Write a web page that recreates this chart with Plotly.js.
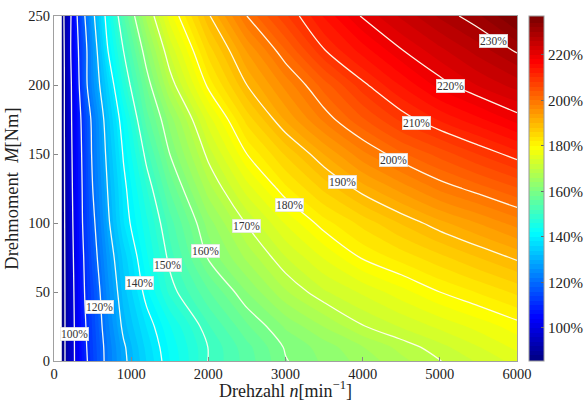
<!DOCTYPE html>
<html>
<head>
<meta charset="utf-8">
<script src="https://cdn.plot.ly/plotly-3.0.1.min.js"></script>
<style>html,body{margin:0;padding:0;background:#fff;}#chart{width:586px;height:401px;}</style>
</head>
<body>
<div id="chart"></div>
<script>
// Speed (rpm) and torque (Nm) grid
const rpm = [100, 200, 300, 400, 500, 700, 900, 1200, 1500, 2000, 2500, 3000, 3500, 4000, 4500, 5000, 5500, 6000];
const torque = [0, 10, 25, 50, 75, 100, 125, 150, 175, 200, 225, 250];

// Values in % (one row per torque level)
const rowM0   = [86, 95.4, 102.4, 108.3, 113.5, 122.2, 128.9, 136.1, 142.0, 150.1, 154.9, 159.8, 162.4, 164.8, 167.4, 169.9, 172.3, 174.8];
const rowM10  = [86, 95.4, 102.5, 108.8, 113.8, 122.4, 129.3, 136.7, 142.5, 150.1, 155.3, 160.3, 162.9, 165.9, 168.7, 171.3, 173.9, 176.5];
const rowM25  = [86, 95.4, 102.7, 109.3, 114.4, 123.5, 131.0, 138.1, 143.8, 151.7, 157.6, 162.3, 166.1, 169.8, 172.2, 174.5, 176.7, 179.0];
const rowM50  = [86, 95.6, 103.2, 110.3, 115.1, 125.2, 132.9, 141.4, 148.6, 155.7, 162.0, 167.7, 171.7, 174.4, 177.2, 180.0, 182.2, 184.5];
const rowM75  = [86, 96.0, 103.8, 111.1, 117.0, 126.9, 134.7, 143.6, 150.9, 160.3, 166.5, 171.9, 176.2, 180.3, 182.8, 185.4, 188.0, 190.5];
const rowM100 = [86, 96.5, 104.4, 112.4, 118.4, 129.1, 137.8, 145.5, 153.0, 163.0, 170.3, 176.2, 181.2, 184.7, 188.2, 191.4, 194.1, 196.9];
const rowM125 = [86, 96.9, 105.0, 112.7, 119.9, 130.4, 138.8, 147.9, 156.3, 167.1, 175.0, 181.5, 186.5, 191.1, 194.8, 198.5, 201.1, 203.8];
const rowM150 = [86, 97.3, 105.4, 113.3, 121.0, 131.7, 140.4, 151.2, 160.0, 170.9, 180.0, 186.3, 192.1, 197.4, 201.6, 204.8, 208.1, 211.2];
const rowM175 = [86, 97.7, 105.8, 114.4, 121.6, 133.2, 142.4, 155.0, 162.9, 175.0, 184.8, 192.3, 198.5, 203.7, 208.5, 212.3, 215.5, 218.8];
const rowM200 = [86, 97.6, 107.1, 117.9, 125.0, 135.9, 146.7, 158.2, 168.2, 180.7, 190.0, 196.7, 203.0, 209.3, 214.2, 218.9, 222.2, 224.9];
const rowM225 = [86, 98.3, 108.4, 117.9, 125.8, 140.0, 150.0, 162.1, 172.4, 184.9, 194.2, 201.9, 209.8, 214.9, 219.8, 223.4, 226.9, 230.4];
const rowM250 = [87, 97.5, 110.0, 120.0, 128.3, 142.8, 153.8, 166.7, 177.1, 189.5, 200.0, 207.6, 214.3, 220.4, 224.4, 228.4, 231.6, 236.5];

// Colorbar ticks
const cbTickVals = [100, 120, 140, 160, 180, 200, 220];
const cbTickText = ['100%', '120%', '140%', '160%', '180%', '200%', '220%'];

// Contour label texts and where they sit
const labelText = ['100%', '120%', '140%', '150%', '160%', '170%', '180%', '190%', '200%', '210%', '220%', '230%'];
const labelRpm = [272, 596, 1114, 1473, 1965, 2497, 3058, 3736, 4402, 4704, 5136, 5698];
const labelTorque = [19.6, 39.3, 56.3, 69.6, 79.7, 98, 113, 130, 146, 172.7, 199, 231.9];

const z = [rowM0, rowM10, rowM25, rowM50, rowM75, rowM100, rowM125, rowM150, rowM175, rowM200, rowM225, rowM250];

const jet = [
  [0, 'rgb(0,0,128)'], [0.125, 'rgb(0,0,255)'], [0.375, 'rgb(0,255,255)'],
  [0.625, 'rgb(255,255,0)'], [0.875, 'rgb(255,0,0)'], [1, 'rgb(128,0,0)']
];
const serif = 'Liberation Serif, Times New Roman, Times, serif';

const fillTrace = {
  type: 'contour', x: rpm, y: torque, z: z,
  colorscale: jet, zauto: false, zmin: 85.5, zmax: 237,
  autocontour: false,
  contours: {coloring: 'fill', start: 84, end: 238, size: 2, showlines: false},
  line: {width: 0, smoothing: 0.85},
  colorbar: {
    x: 1.025, xanchor: 'left', xref: 'paper', y: 0.5, yanchor: 'middle', len: 1, lenmode: 'fraction',
    thickness: 15, outlinecolor: '#999', outlinewidth: 1, xpad: 0, ypad: 0,
    tickmode: 'array', tickvals: cbTickVals, ticktext: cbTickText,
    ticks: 'inside', ticklen: 3, tickcolor: '#666', ticklabelstandoff: 3,
    tickfont: {family: serif, size: 15, color: '#222'}
  },
  hoverinfo: 'skip'
};

const lineTrace = {
  type: 'contour', x: rpm, y: torque, z: z,
  autocontour: false,
  contours: {coloring: 'none', start: 90, end: 230, size: 10},
  line: {color: 'rgba(255,255,240,0.95)', width: 1.3, smoothing: 0.85},
  showscale: false, hoverinfo: 'skip'
};

const annotations = labelText.map((t, i) => ({
  x: labelRpm[i], y: labelTorque[i], xref: 'x', yref: 'y', text: t,
  showarrow: false, bgcolor: 'white', bordercolor: '#ddd', borderwidth: 0.5, borderpad: 0.5,
  font: {family: serif, size: 11.5, color: '#333'}
}));

const layout = {
  width: 586, height: 401,
  margin: {l: 54, r: 69, t: 16, b: 40, autoexpand: false},
  paper_bgcolor: 'white', plot_bgcolor: 'white',
  showlegend: false,
  font: {family: serif, color: '#222'},
  xaxis: {
    range: [0, 6000], tickvals: [0, 1000, 2000, 3000, 4000, 5000, 6000],
    ticks: 'inside', ticklen: 4, tickcolor: '#888',
    showline: true, linecolor: '#a0a0a0', linewidth: 1, mirror: true,
    showgrid: false, zeroline: false, automargin: false,
    tickfont: {family: serif, size: 14.5, color: '#222'},
    title: {text: 'Drehzahl <i>n</i>[min<sup>\u22121</sup>]', font: {family: serif, size: 18, color: '#222'}, standoff: 2}
  },
  yaxis: {
    range: [0, 250], tickvals: [0, 50, 100, 150, 200, 250],
    ticks: 'inside', ticklen: 4, tickcolor: '#888',
    showline: true, linecolor: '#a0a0a0', linewidth: 1, mirror: true,
    showgrid: false, zeroline: false, automargin: false,
    tickfont: {family: serif, size: 14.5, color: '#222'},
    title: {text: 'Drehmoment&nbsp;&nbsp;<i>M</i>[Nm]', font: {family: serif, size: 18.5, color: '#222'}, standoff: 4}
  },
  annotations: annotations
};

Plotly.newPlot('chart', [fillTrace, lineTrace], layout, {staticPlot: true, displayModeBar: false});
</script>
</body>
</html>
